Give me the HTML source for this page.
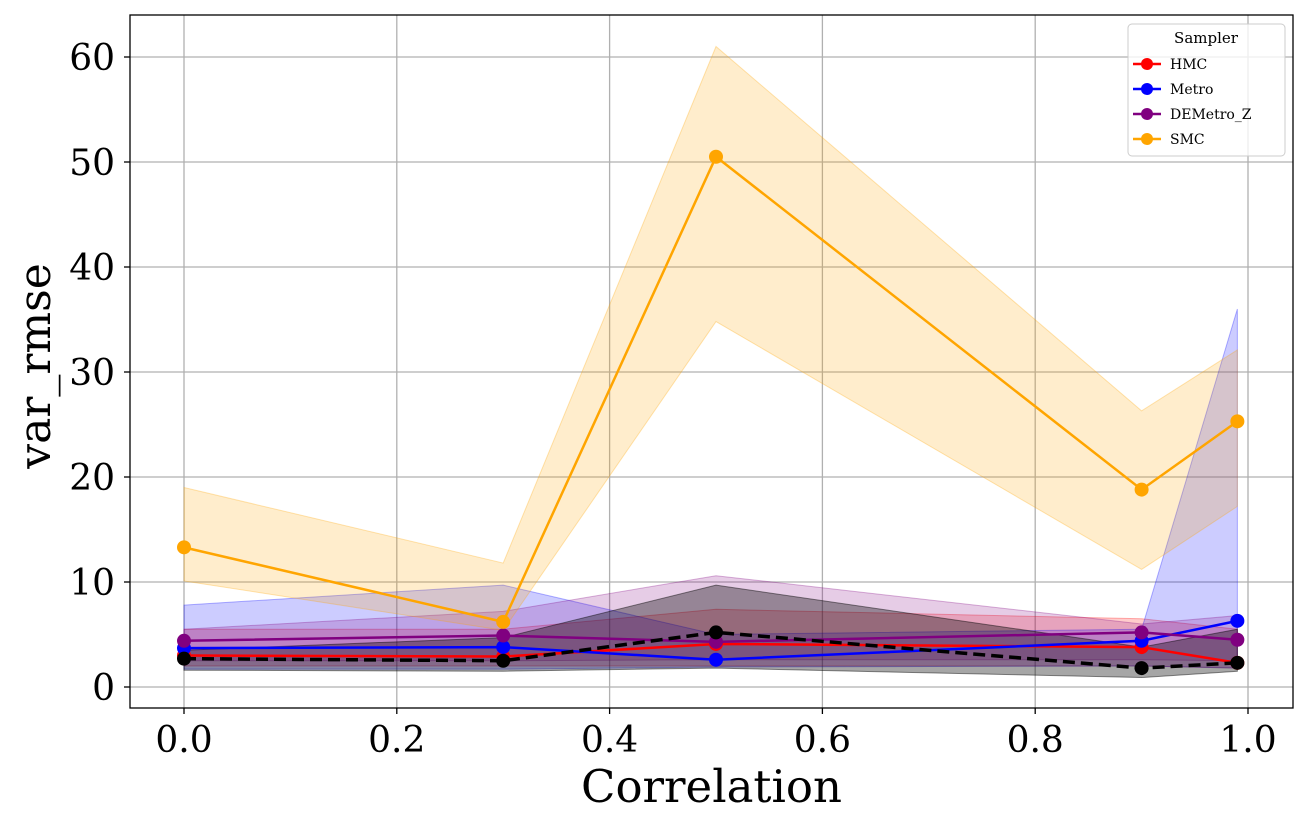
<!DOCTYPE html>
<html><head><meta charset="utf-8"><style>body{margin:0;background:#fff}svg{display:block;font-family:"DejaVu Serif","Liberation Serif",serif}</style></head>
<body>
<svg id="chart" width="1308" height="827" xmlns="http://www.w3.org/2000/svg"></svg>
<script>
const xs=[0,0.3,0.5,0.9,0.99];
const hmcMean=[3.0,2.9,4.1,3.8,2.3];
const hmcLo=[2.0,2.0,2.0,2.0,1.8];
const hmcHi=[5.5,5.5,7.4,6.5,5.5];
const metroMean=[3.7,3.8,2.6,4.4,6.3];
const metroLo=[1.7,1.7,1.9,2.0,1.8];
const metroHi=[7.8,9.7,5.0,5.5,36.0];
const deMean=[4.4,4.9,4.3,5.2,4.5];
const deLo=[2.5,2.5,2.6,2.6,2.5];
const deHi=[5.5,7.2,10.6,6.0,6.8];
const smcMean=[13.3,6.2,50.5,18.8,25.3];
const smcLo=[10.1,5.4,34.8,11.2,17.2];
const smcHi=[19.0,11.8,61.0,26.3,32.1];
const refMean=[2.7,2.5,5.2,1.8,2.3];
const refLo=[1.6,1.5,1.8,0.9,1.5];
const refHi=[3.5,4.7,9.7,3.8,5.5];
const xTicks=[0,0.2,0.4,0.6,0.8,1.0];
const yTicks=[0,10,20,30,40,50,60];
const seriesNames=["HMC","Metro","DEMetro_Z","SMC"];

const svg=document.getElementById('chart');
const NS="http://www.w3.org/2000/svg";
const X=v=>184+1064*v, Y=v=>687-10.5*v;
const L=130,R=1293,T=15,B=708;
function mk(t,a,p){const e=document.createElementNS(NS,t);for(const k in a)e.setAttribute(k,a[k]);(p||svg).appendChild(e);return e;}
function txt(s,a){const e=mk('text',a);e.textContent=s;return e;}
const grid=mk('g',{});


xTicks.forEach(v=>{mk('line',{x1:X(v),x2:X(v),y1:T,y2:B,stroke:'#b0b0b0','stroke-width':1.3},grid);
 mk('line',{x1:X(v),x2:X(v),y1:B,y2:B+6,stroke:'#000','stroke-width':1.3});
 const t=txt(v.toFixed(1),{x:X(v),y:B+44,'font-size':36,'text-anchor':'middle'});
 });
yTicks.forEach(v=>{mk('line',{x1:L,x2:R,y1:Y(v),y2:Y(v),stroke:'#b0b0b0','stroke-width':1.3},grid);
 mk('line',{x1:L-6,x2:L,y1:Y(v),y2:Y(v),stroke:'#000','stroke-width':1.3});
 const t=txt(String(v),{x:L-15,y:Y(v)+13,'font-size':36,'text-anchor':'end'});
 });
function band(lo,hi,col,op,name){
 let d='M'+xs.map((x,i)=>X(x)+','+Y(hi[i])).join('L')+'L'+xs.map((x,i)=>X(x)+','+Y(lo[i])).reverse().join('L')+'Z';
 const p=mk('path',{d,fill:col,'fill-opacity':op,stroke:col,'stroke-opacity':op+0.1});
 }
function line(m,col,name,dash){
 const g=mk('g',{});
 mk('polyline',{points:xs.map((x,i)=>X(x)+','+Y(m[i])).join(' '),fill:'none',stroke:col,'stroke-width':dash?3.5:2.5,'stroke-dasharray':dash?'12,6':'none'},g);
 m.forEach((v,i)=>mk('circle',{cx:X(xs[i]),cy:Y(v),r:7,fill:col},g));}
band(hmcLo,hmcHi,'#ff0000',0.2,'hmc-band');
band(metroLo,metroHi,'#0000ff',0.2,'metro-band');
band(deLo,deHi,'#800080',0.2,'demetro-band');
band(smcLo,smcHi,'#ffa500',0.2,'smc-band');
band(refLo,refHi,'#000000',0.35,'reference-band');
line(hmcMean,'#ff0000','hmc-line');
line(metroMean,'#0000ff','metro-line');
line(deMean,'#800080','demetro-line');
line(smcMean,'#ffa500','smc-line');
line(refMean,'#000000','reference-line',true);
const fr=mk('rect',{x:L,y:T,width:R-L,height:B-T,fill:'none',stroke:'#000','stroke-width':1.3});

let t=txt('Correlation',{x:(L+R)/2,y:802,'font-size':45,'text-anchor':'middle'});

t=txt('var_rmse',{x:0,y:0,'font-size':44,'text-anchor':'middle',transform:'translate(50,366) rotate(-90)'});

const lg=mk('g',{});
mk('rect',{x:1128,y:24,width:157,height:132,rx:4,fill:'#fff','fill-opacity':0.8,stroke:'#ccc'},lg);
txt('Sampler',{x:1206,y:43,'font-size':15,'text-anchor':'middle'});
const cols=['#ff0000','#0000ff','#800080','#ffa500'];
seriesNames.forEach((n,i)=>{const y=64+25*i;const e=mk('g',{},lg);
 
 mk('line',{x1:1133,x2:1161,y1:y,y2:y,stroke:cols[i],'stroke-width':2.5},e);
 mk('circle',{cx:1147,cy:y,r:6,fill:cols[i]},e);
 const tt=mk('text',{x:1170,y:y+5,'font-size':14},e);tt.textContent=n;});
</script>
</body></html>
